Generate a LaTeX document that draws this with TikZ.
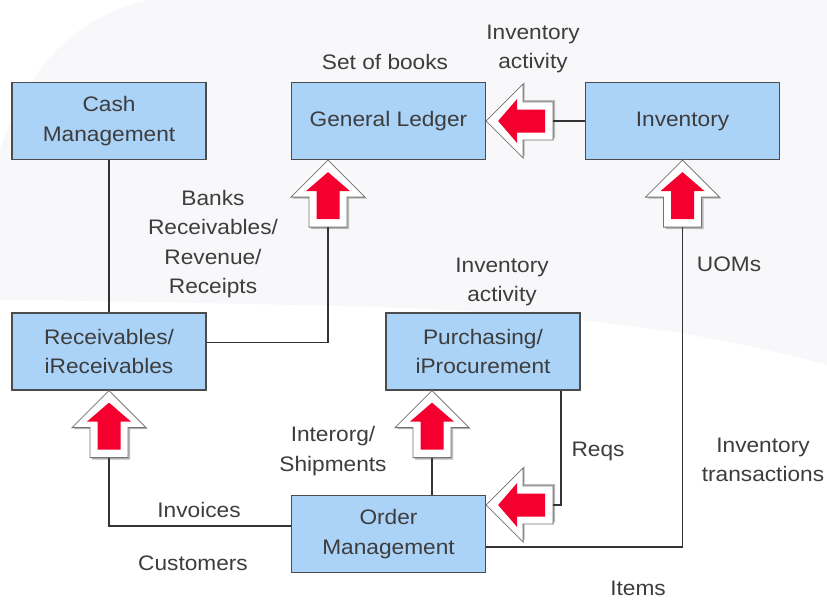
\documentclass[tikz,border=0pt]{standalone}
\usepackage{fontspec}
\setmainfont{Liberation Sans}[FakeStretch=1.08]
\begin{document}
\begin{tikzpicture}[x=1pt,y=-1pt,
  txt/.style={text=black!76, font=\fontsize{21}{29.5}\selectfont, align=center, inner sep=0pt},
  box/.style={txt, draw=black!70, fill=boxblue, line width=1.2pt, minimum width=194pt, minimum height=77pt},
  conn/.style={draw=black!80, line width=1.1pt},
  fatarrow/.pic={
    \fill[black!28] (2,1.5) -- (39,38.5) -- (21,38.5) -- (21,69) -- (-17,69) -- (-17,38.5) -- (-35,38.5) -- cycle;
    \filldraw[fill=white, draw=black!55, line width=0.8pt] (0,0) -- (37,37) -- (19,37) -- (19,67) -- (-19,67) -- (-19,37) -- (-37,37) -- cycle;
    \fill[arrowred] (0,12) -- (22,31) -- (11.5,31) -- (11.5,59) -- (-11.5,59) -- (-11.5,31) -- (-22,31) -- cycle;
    \coordinate (-base) at (0,67);
  }]
\definecolor{boxblue}{HTML}{ABD2F7}
\definecolor{arrowred}{HTML}{F5002E}
\definecolor{bggray}{HTML}{F8F8FA}
\useasboundingbox (0,0) rectangle (827,600);
\fill[white] (0,0) rectangle (827,600);
\fill[bggray] (150,0) -- (827,0) -- (827,365) .. controls (700,330) and (560,310) .. (300,305) .. controls (150,302) and (60,300) .. (0,300) -- (0,150) .. controls (30,60) and (80,15) .. (150,0) -- cycle;

% boxes
\node[box] (cash) at (109,121) {Cash\\Management};
\node[box] (gl) at (388.5,121) {General Ledger};
\node[box] (inv) at (682.5,121) {Inventory};
\node[box] (rec) at (109,351.5) {Receivables/\\iReceivables};
\node[box] (pur) at (483,351.5) {Purchasing/\\iProcurement};
\node[box] (om) at (388.5,534) {Order\\Management};

% arrows
\pic (glup) at (gl.south -| 328,0) {fatarrow};
\pic[rotate=90] (glleft) at (gl.east) {fatarrow};
\pic (invup) at (inv.south) {fatarrow};
\pic (recup) at (rec.south) {fatarrow};
\pic (purup) at (pur.south -| 432,0) {fatarrow};
\pic[rotate=90] (omleft) at (om.east |- 0,505) {fatarrow};

% connectors
\draw[conn] (cash) -- (rec);
\draw[conn] ([yshift=9pt]rec.east) -| (glup-base);
\draw[conn] (inv.west) -- (glleft-base);
\draw[conn] ([yshift=-13pt]om.east) -| (invup-base);
\draw[conn] ([yshift=8pt]om.west) -| (recup-base);
\draw[conn] (purup-base) -- (purup-base |- om.north);
\draw[conn] ([xshift=78pt]pur.south) |- (omleft-base);

% labels
\node[txt] (l1) at (385,62) {Set of books};
\node[txt] (l2) at (533,49) {Inventory\\activity};
\node[txt] (l3) at (213,244) {Banks\\Receivables/\\Revenue/\\Receipts};
\node[txt] (l4) at (502,282) {Inventory\\activity};
\node[txt] (l5) at (729,264) {UOMs};
\node[txt] (l6) at (333,451) {Interorg/\\Shipments};
\node[txt] (l7) at (598,451) {Reqs};
\node[txt] (l8) at (763,460) {Inventory\\transactions};
\node[txt] (l9) at (199,510) {Invoices};
\node[txt] (l10) at (193,563) {Customers};
\node[txt] (l11) at (638,588) {Items};
\end{tikzpicture}
\end{document}
